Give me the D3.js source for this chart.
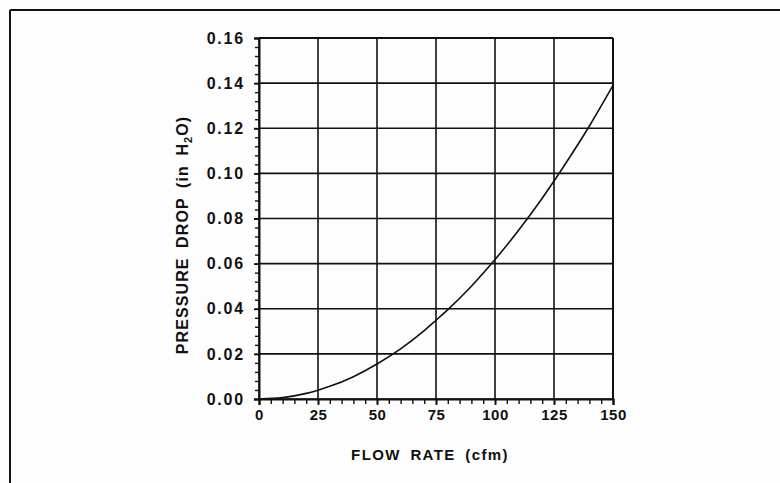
<!DOCTYPE html>
<html>
<head>
<meta charset="utf-8">
<script src="https://cdn.jsdelivr.net/npm/d3@7"></script>
<style>
  html, body { margin: 0; padding: 0; background: #fdfdfd; }
  svg { display: block; }
  .tick text { font-family: "Liberation Sans", Arial, sans-serif; font-weight: bold; fill: #111; }
</style>
</head>
<body>
<svg id="chart" width="780" height="483"></svg>
<script>
// Flow rate (cfm) and measured pressure drop (in H2O)
const flowRate = [0, 10, 20, 25, 30, 40, 50, 60, 70, 75, 80, 90, 100, 110, 120, 125, 130, 140, 150];
const pressureDrop = [0, 0.0006, 0.0025, 0.0039, 0.0056, 0.0099, 0.0155, 0.0222, 0.0303, 0.0349, 0.0396,
                      0.0500, 0.0618, 0.0748, 0.0890, 0.0966, 0.1045, 0.1210, 0.1390];

// Axis ticks
const xTicks = [0, 25, 50, 75, 100, 125, 150];
const yTicks = [0, 0.02, 0.04, 0.06, 0.08, 0.10, 0.12, 0.14, 0.16];
const xMinorTicks = d3.range(0, 151, 5);
const yMinorTicks = d3.range(0, 41).map(i => i * 0.004);

const xTitle = "FLOW RATE (cfm)";

const svg = d3.select("#chart");
const ink = "#111";

const x = d3.scaleLinear().domain([0, 150]).range([259, 613]);
const y = d3.scaleLinear().domain([0, 0.16]).range([399, 38]);

// Outer frame (top and left edges)
svg.append("line").attr("x1", 10).attr("x2", 780).attr("y1", 10).attr("y2", 10)
  .attr("stroke", ink).attr("stroke-width", 2);
svg.append("line").attr("x1", 10).attr("x2", 10).attr("y1", 10).attr("y2", 483)
  .attr("stroke", ink).attr("stroke-width", 2);

// Grid lines
const grid = svg.append("g");
grid.selectAll(".vg").data(xTicks).join("line")
  .attr("x1", d => x(d)).attr("x2", d => x(d))
  .attr("y1", y(0)).attr("y2", y(0.16))
  .attr("stroke", ink).attr("stroke-width", 1.6);
grid.selectAll(".hg").data(yTicks).join("line")
  .attr("x1", x(0)).attr("x2", x(150))
  .attr("y1", d => y(d)).attr("y2", d => y(d))
  .attr("stroke", ink).attr("stroke-width", 1.6);

// Minor ticks
svg.append("g").attr("transform", `translate(0,${y(0)})`)
  .call(d3.axisBottom(x).tickValues(xMinorTicks).tickSize(5).tickFormat(""))
  .call(g => g.select(".domain").remove())
  .call(g => g.selectAll("line").attr("stroke", ink).attr("stroke-width", 1.4));
svg.append("g").attr("transform", `translate(${x(0)},0)`)
  .call(d3.axisLeft(y).tickValues(yMinorTicks).tickSize(4).tickFormat(""))
  .call(g => g.select(".domain").remove())
  .call(g => g.selectAll("line").attr("stroke", ink).attr("stroke-width", 1.4));

// Major ticks and labels
svg.append("g").attr("transform", `translate(0,${y(0)})`)
  .call(d3.axisBottom(x).tickValues(xTicks).tickSize(6).tickPadding(4).tickFormat(d3.format("d")))
  .call(g => g.select(".domain").attr("stroke", ink).attr("stroke-width", 2))
  .call(g => g.selectAll("line").attr("stroke", ink).attr("stroke-width", 1.8))
  .call(g => g.selectAll("text").attr("font-size", 15).attr("letter-spacing", 0.5));
svg.append("g").attr("transform", `translate(${x(0)},0)`)
  .call(d3.axisLeft(y).tickValues(yTicks).tickSize(5).tickPadding(9).tickFormat(d3.format(".2f")))
  .call(g => g.select(".domain").attr("stroke", ink).attr("stroke-width", 2))
  .call(g => g.selectAll("line").attr("stroke", ink).attr("stroke-width", 1.8))
  .call(g => g.selectAll("text").attr("font-size", 16).attr("letter-spacing", 1.8));

// Right border of the plot box
svg.append("line").attr("x1", x(150)).attr("x2", x(150)).attr("y1", y(0)).attr("y2", y(0.16))
  .attr("stroke", ink).attr("stroke-width", 2);
svg.append("line").attr("x1", x(0)).attr("x2", x(150)).attr("y1", y(0.16)).attr("y2", y(0.16))
  .attr("stroke", ink).attr("stroke-width", 2);

// Pressure-drop curve
const pts = flowRate.map((f, i) => [f, pressureDrop[i]]);
svg.append("path").datum(pts)
  .attr("fill", "none").attr("stroke", ink).attr("stroke-width", 1.6)
  .attr("d", d3.line().x(d => x(d[0])).y(d => y(d[1])).curve(d3.curveMonotoneX));

// Axis titles
svg.append("text")
  .attr("x", 430).attr("y", 460)
  .attr("text-anchor", "middle")
  .attr("font-family", "Liberation Sans, Arial, sans-serif")
  .attr("font-weight", "bold").attr("font-size", 15)
  .attr("letter-spacing", 1.4).attr("word-spacing", 4)
  .attr("fill", ink)
  .text(xTitle);

const yt = svg.append("text")
  .attr("transform", "translate(188,235) rotate(-90)")
  .attr("text-anchor", "middle")
  .attr("font-family", "Liberation Sans, Arial, sans-serif")
  .attr("font-weight", "bold").attr("font-size", 16)
  .attr("letter-spacing", 1.1).attr("word-spacing", 4)
  .attr("fill", ink);
yt.append("tspan").text("PRESSURE DROP (in H");
yt.append("tspan").attr("font-size", 11).attr("dy", 4).text("2");
yt.append("tspan").attr("dy", -4).text("O)");
</script>
</body>
</html>
